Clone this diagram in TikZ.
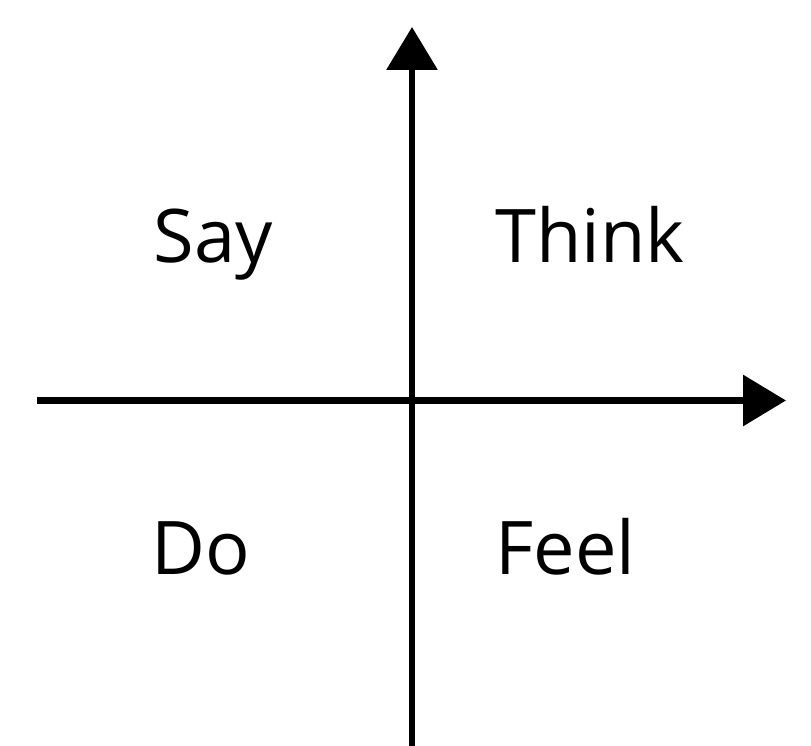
\documentclass[tikz,border=0pt]{standalone}
\usepackage{fontspec}
\setmainfont{Open Sans}
\usetikzlibrary{arrows.meta}
\tikzset{
  axis/.style={line width=6.5pt, -{Triangle[length=43pt,width=50pt]}},
  quad/.style={inner sep=0pt, anchor=base, font=\fontsize{74}{88}\selectfont}
}
\begin{document}
\begin{tikzpicture}[x=1pt,y=-1pt]
\useasboundingbox[fill=white] (0,0) rectangle (811,746);
\coordinate (vbot) at (412,746);
\coordinate (vtop) at (412,27);
\coordinate (hleft) at (37,400.5);
\coordinate (hright) at (786,400.5);
\draw[axis] (vbot) -- (vtop);
\draw[axis] (hleft) -- (hright);
\node[quad] (say) at (213.5,262) {Say};
\node[quad] (think) at (590,262) {Think};
\node[quad] (do) at (201,574) {Do};
\node[quad] (feel) at (565.5,574) {Feel};
\end{tikzpicture}
\end{document}
